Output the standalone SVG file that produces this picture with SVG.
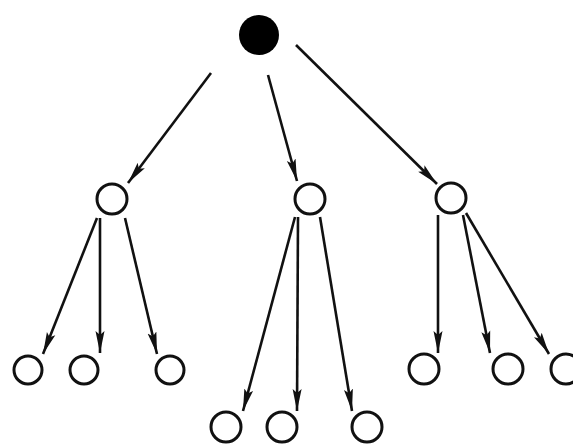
<svg xmlns="http://www.w3.org/2000/svg" width="573" height="444" viewBox="0 0 573 444">
<defs>
<style>
.n{fill:#fff;stroke:#111;stroke-width:3}
.e{stroke:#111;stroke-width:2.6;fill:none;marker-end:url(#ah)}
</style>
<marker id="ah" markerUnits="userSpaceOnUse" markerWidth="24" markerHeight="12" refX="22" refY="5" orient="auto" viewBox="0 0 24 10">
<path d="M0,0.5 L22,5 L0,9.5 L4,5 Z" fill="#111"/>
</marker>
</defs>
<rect width="573" height="444" fill="#fff"/>
<g id="edges">
<line class="e" x1="211" y1="73" x2="128" y2="183"/>
<line class="e" x1="268" y1="75" x2="297" y2="181"/>
<line class="e" x1="296" y1="45" x2="437" y2="184"/>
<line class="e" x1="97" y1="218" x2="43" y2="354"/>
<line class="e" x1="100" y1="218" x2="100" y2="353"/>
<line class="e" x1="125" y1="218" x2="157" y2="354"/>
<line class="e" x1="295" y1="217" x2="243" y2="411"/>
<line class="e" x1="298" y1="217" x2="297" y2="411"/>
<line class="e" x1="320" y1="217" x2="352" y2="411"/>
<line class="e" x1="438" y1="215" x2="438" y2="353"/>
<line class="e" x1="463" y1="215" x2="490" y2="353"/>
<line class="e" x1="466" y1="213" x2="549" y2="354"/>
</g>
<g id="root"><circle cx="259" cy="35" r="20" fill="#000"/></g>
<g id="a"><circle class="n" cx="112" cy="199" r="15"/></g>
<g id="b"><circle class="n" cx="310" cy="199" r="15"/></g>
<g id="c"><circle class="n" cx="451" cy="198" r="15"/></g>
<g id="a1"><circle class="n" cx="28" cy="370" r="14"/></g>
<g id="a2"><circle class="n" cx="84" cy="370" r="14"/></g>
<g id="a3"><circle class="n" cx="170" cy="370" r="14"/></g>
<g id="b1"><circle class="n" cx="226" cy="427" r="15"/></g>
<g id="b2"><circle class="n" cx="282" cy="427" r="15"/></g>
<g id="b3"><circle class="n" cx="367" cy="427" r="15"/></g>
<g id="c1"><circle class="n" cx="424" cy="369" r="15"/></g>
<g id="c2"><circle class="n" cx="508" cy="369" r="15"/></g>
<g id="c3"><circle class="n" cx="566" cy="369" r="15"/></g>
</svg>
